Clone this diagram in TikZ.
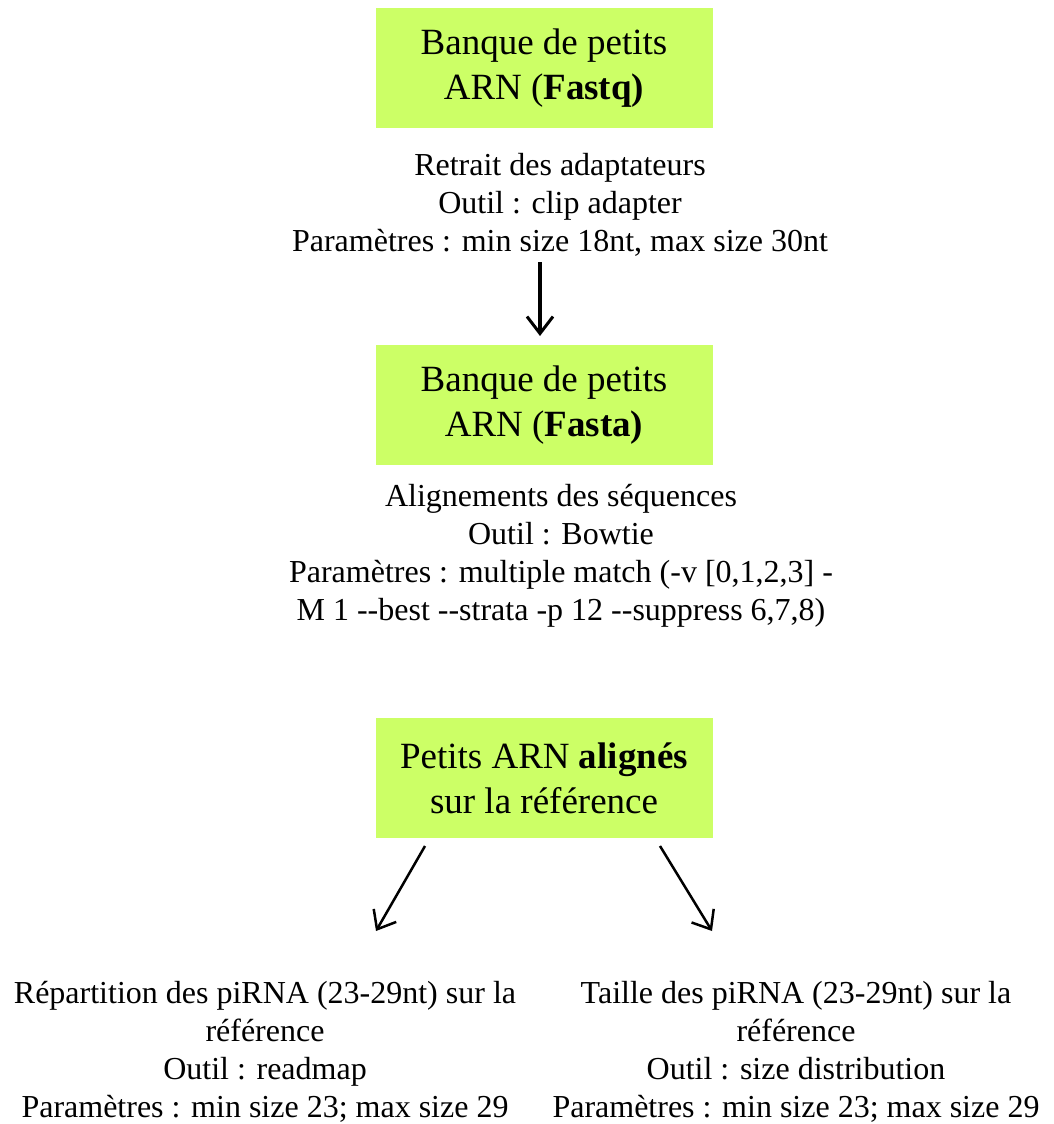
\documentclass[tikz,border=0pt]{standalone}
\usepackage{fontspec}
\setmainfont{Liberation Serif}
\usetikzlibrary{arrows.meta}
\definecolor{boxgreen}{RGB}{204,255,102}
\begin{document}
\begin{tikzpicture}[x=1pt,y=1pt,
  greenbox/.style={fill=boxgreen, draw=none, minimum width=337pt, minimum height=120pt, inner sep=0pt, align=center, font=\fontsize{37}{45}\selectfont},
  desc/.style={align=center, inner sep=0pt, font=\fontsize{32}{38}\selectfont},
  bigarrow/.style={line width=4pt, -{Straight Barb[length=17pt,width=26pt,line width=3pt]}},
  thinarrow/.style={line width=2.5pt, -{Straight Barb[length=16pt,width=26pt,line width=2.5pt]}}]
\useasboundingbox (0,0) rectangle (1053,-1124);
\node[greenbox] (b1) at (544,-68) {Banque de petits\\ARN (\textbf{Fastq)}};
\node[desc] (t1) at (560,-205) {Retrait des adaptateurs\\Outil : clip adapter\\Paramètres : min size 18nt, max size 30nt};
\node[greenbox] (b2) at (544,-405) {Banque de petits\\ARN (\textbf{Fasta)}};
\node[desc] (t2) at (561,-556) {Alignements des séquences\\Outil : Bowtie\\Paramètres : multiple match (-v [0,1,2,3] -\\M 1 -{}-best -{}-strata -p 12 -{}-suppress 6,7,8)};
\node[greenbox] (b3) at (544,-778) {Petits ARN \textbf{alignés}\\sur la référence};
\node[desc] (t3) at (265,-1052) {Répartition des piRNA (23-29nt) sur la\\référence\\Outil : readmap\\Paramètres : min size 23; max size 29};
\node[desc] (t4) at (796,-1052) {Taille des piRNA (23-29nt) sur la\\référence\\Outil : size distribution\\Paramètres : min size 23; max size 29};
\coordinate (a1s) at (540,-262);
\coordinate (a1e) at (540,-336);
\coordinate (a2s) at (425,-846);
\coordinate (a2e) at (376,-931);
\coordinate (a3s) at (660,-846);
\coordinate (a3e) at (712,-931);
\draw[bigarrow] (a1s) -- (a1e);
\draw[thinarrow] (a2s) -- (a2e);
\draw[thinarrow] (a3s) -- (a3e);
\end{tikzpicture}
\end{document}
